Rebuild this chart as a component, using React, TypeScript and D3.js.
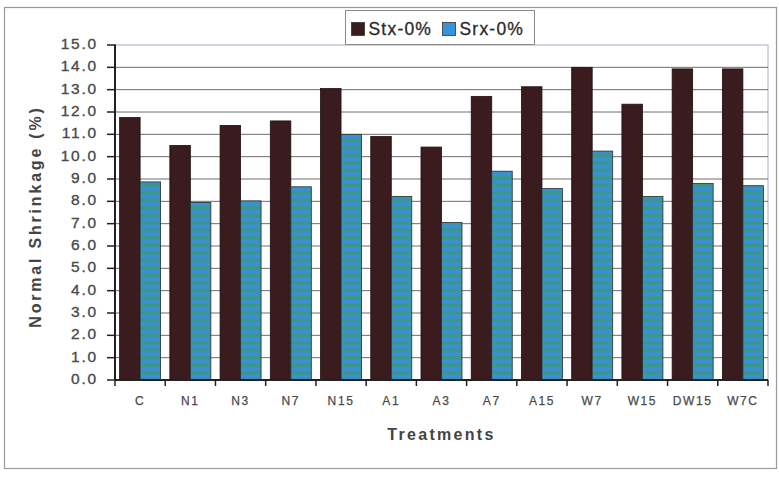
import React, { useRef, useEffect } from "react";
import * as d3 from "d3";

const treatments = ["C", "N1", "N3", "N7", "N15", "A1", "A3", "A7", "A15", "W7", "W15", "DW15", "W7C"];
const stxValues = [11.75, 10.5, 11.4, 11.6, 13.05, 10.9, 10.43, 12.7, 13.13, 14.0, 12.35, 13.93, 13.93];
const srxValues = [8.87, 7.95, 8.02, 8.65, 11.0, 8.22, 7.05, 9.35, 8.57, 10.25, 8.22, 8.8, 8.7];
const seriesNames = ["Stx-0%", "Srx-0%"];
const yTicks = d3.range(0, 16);

const width = 779;
const height = 482;
const plot = { left: 115, right: 768, top: 45, bottom: 380 };
const font = "Liberation Sans, Arial, sans-serif";

const App = () => {
  const canvas = useRef<SVGSVGElement>(null);

  useEffect(() => {
    const svg = d3.select(canvas.current);
    svg.selectAll("*").remove();

    const x0 = d3.scaleBand<string>().domain(treatments).range([plot.left, plot.right]);
    const x1 = d3.scaleBand<string>().domain(seriesNames).range([0, x0.bandwidth()]).paddingOuter(0.225);
    const y = d3.scaleLinear().domain([0, 15]).range([plot.bottom, plot.top]);

    // striped fill for the Srx bars
    const defs = svg.append("defs");
    const pat = defs.append("pattern")
      .attr("id", "srxStripe")
      .attr("patternUnits", "userSpaceOnUse")
      .attr("width", 8)
      .attr("height", 7.5);
    pat.append("rect").attr("width", 8).attr("height", 7.5).attr("fill", "#3a8fd6");
    pat.append("rect").attr("y", 3.6).attr("width", 8).attr("height", 3.4).attr("fill", "#3c9882");

    // outer frame
    svg.append("rect")
      .attr("x", 4.5).attr("y", 7.5)
      .attr("width", 772).attr("height", 461)
      .attr("fill", "white").attr("stroke", "#9a9a9a").attr("stroke-width", 1.2);

    // plot frame and gridlines
    svg.append("rect")
      .attr("x", plot.left).attr("y", plot.top)
      .attr("width", plot.right - plot.left).attr("height", plot.bottom - plot.top)
      .attr("fill", "none").attr("stroke", "#aaaacc").attr("stroke-width", 1);

    svg.append("g")
      .selectAll("line")
      .data(yTicks.slice(1, -1))
      .join("line")
      .attr("x1", plot.left).attr("x2", plot.right)
      .attr("y1", d => y(d)).attr("y2", d => y(d))
      .attr("stroke", "#6e6e6e").attr("stroke-width", 1);

    // bars
    const groups = svg.append("g")
      .selectAll("g")
      .data(treatments)
      .join("g")
      .attr("transform", d => `translate(${x0(d)},0)`);

    groups.append("rect")
      .attr("x", x1("Stx-0%")!)
      .attr("y", (d, i) => y(stxValues[i]))
      .attr("width", x1.bandwidth())
      .attr("height", (d, i) => y(0) - y(stxValues[i]))
      .attr("fill", "#3a1b1e")
      .attr("stroke", "#1e0e10").attr("stroke-width", 0.8);

    groups.append("rect")
      .attr("x", x1("Srx-0%")!)
      .attr("y", (d, i) => y(srxValues[i]))
      .attr("width", x1.bandwidth())
      .attr("height", (d, i) => y(0) - y(srxValues[i]))
      .attr("fill", "url(#srxStripe)")
      .attr("stroke", "#23302e").attr("stroke-width", 0.8);

    // y axis
    const yAxis = svg.append("g");
    yAxis.append("line")
      .attr("x1", plot.left).attr("x2", plot.left)
      .attr("y1", plot.top).attr("y2", plot.bottom)
      .attr("stroke", "#222").attr("stroke-width", 2);
    yAxis.selectAll("line.tick")
      .data(yTicks)
      .join("line")
      .attr("class", "tick")
      .attr("x1", plot.left - 8).attr("x2", plot.left + 1)
      .attr("y1", d => y(d)).attr("y2", d => y(d))
      .attr("stroke", "#222").attr("stroke-width", 1.5);
    yAxis.selectAll("text")
      .data(yTicks)
      .join("text")
      .attr("x", 98).attr("y", d => y(d))
      .attr("text-anchor", "end")
      .attr("dominant-baseline", "middle")
      .attr("font-family", font)
      .attr("font-size", 15.5)
      .attr("letter-spacing", 1.8)
      .attr("fill", "#4a4a4a")
      .attr("stroke", "#4a4a4a").attr("stroke-width", 0.35)
      .text(d => d3.format(".1f")(d));

    // x axis
    const xAxis = svg.append("g");
    xAxis.append("line")
      .attr("x1", plot.left).attr("x2", plot.right)
      .attr("y1", plot.bottom).attr("y2", plot.bottom)
      .attr("stroke", "#222").attr("stroke-width", 2);
    xAxis.selectAll("line.tick")
      .data([...treatments.map(d => x0(d)!), plot.right])
      .join("line")
      .attr("class", "tick")
      .attr("x1", d => d).attr("x2", d => d)
      .attr("y1", plot.bottom).attr("y2", plot.bottom + 6)
      .attr("stroke", "#222").attr("stroke-width", 1.5);
    xAxis.selectAll("text")
      .data(treatments)
      .join("text")
      .attr("x", d => x0(d)! + x0.bandwidth() / 2)
      .attr("y", 404.5)
      .attr("text-anchor", "middle")
      .attr("font-family", font)
      .attr("font-size", 12)
      .attr("letter-spacing", 1.6)
      .attr("fill", "#4a4a4a")
      .attr("stroke", "#4a4a4a").attr("stroke-width", 0.25)
      .text(d => d);

    // axis titles
    svg.append("text")
      .attr("x", (plot.left + plot.right) / 2)
      .attr("y", 440)
      .attr("text-anchor", "middle")
      .attr("font-family", font)
      .attr("font-weight", "bold")
      .attr("font-size", 16)
      .attr("letter-spacing", 2.3)
      .attr("fill", "#444")
      .text("Treatments");

    svg.append("text")
      .attr("transform", `translate(37,${(plot.top + plot.bottom) / 2 + 4}) rotate(-90)`)
      .attr("text-anchor", "middle")
      .attr("dominant-baseline", "middle")
      .attr("font-family", font)
      .attr("font-weight", "bold")
      .attr("font-size", 16)
      .attr("letter-spacing", 2.8)
      .attr("fill", "#444")
      .text("Normal Shrinkage (%)");

    // legend
    const legend = svg.append("g").attr("transform", "translate(345.5,10.5)");
    legend.append("rect")
      .attr("width", 189).attr("height", 34)
      .attr("fill", "white").attr("stroke", "#8a8a8a").attr("stroke-width", 1);
    const swatchFill = ["#3a1b1e", "#3a92d8"];
    const itemX = [6, 97];
    seriesNames.forEach((name, i) => {
      legend.append("rect")
        .attr("x", itemX[i]).attr("y", 12)
        .attr("width", 13).attr("height", 13)
        .attr("fill", swatchFill[i])
        .attr("stroke", "#333").attr("stroke-width", 0.8);
      legend.append("text")
        .attr("x", itemX[i] + 17).attr("y", 24.5)
        .attr("font-family", font)
        .attr("font-size", 17.5)
        .attr("letter-spacing", 1.2)
        .attr("fill", "#2a2a2a")
        .attr("stroke", "#2a2a2a").attr("stroke-width", 0.3)
        .text(name);
    });
  });

  return (
    <svg
      ref={canvas}
      width={width}
      height={height}
      style={{ position: "absolute", left: 0, top: 0, display: "block", background: "white" }}
    />
  );
};

export default App;
